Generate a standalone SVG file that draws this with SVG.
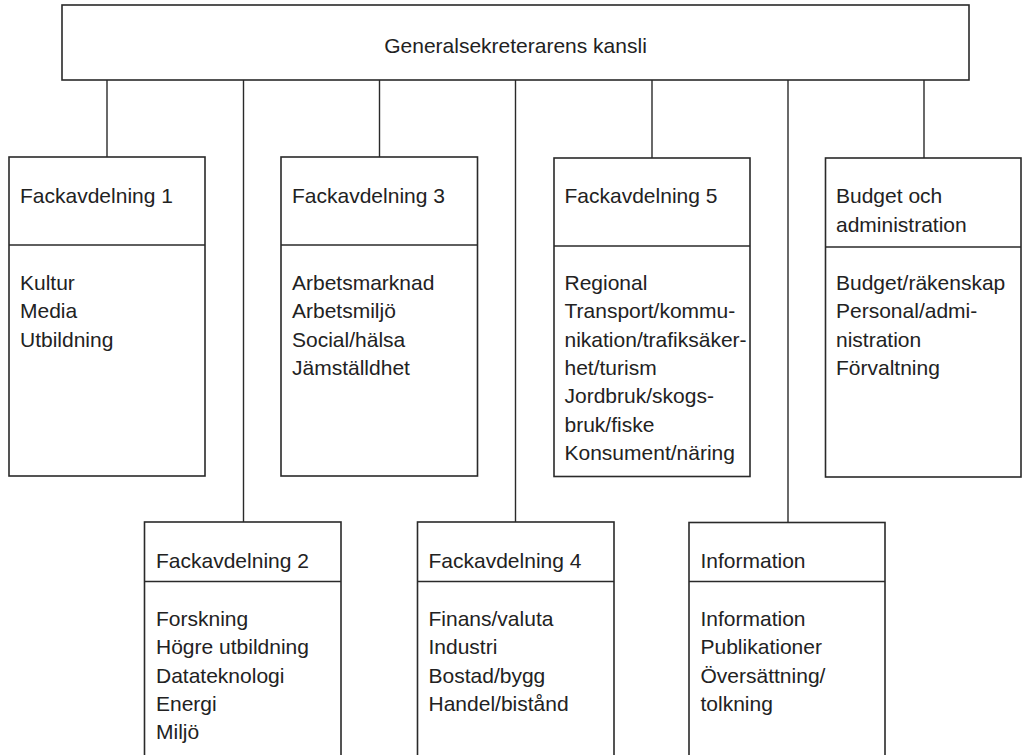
<svg xmlns="http://www.w3.org/2000/svg" width="1024" height="755" viewBox="0 0 1024 755">
<style>
.box{fill:#fff;stroke:#2a2a2a;stroke-width:1.6}
.div{stroke:#2a2a2a;stroke-width:1.6}
.con{stroke:#2a2a2a;stroke-width:1.4;fill:none}
text{font-family:"Liberation Sans",Arial,sans-serif;font-size:21px;fill:#222}
</style>
<rect width="1024" height="755" fill="#fff"/>
<g id="connectors">
<line class="con" x1="107" y1="80" x2="107" y2="157"/>
<line class="con" x1="243.5" y1="80" x2="243.5" y2="522"/>
<line class="con" x1="379.5" y1="80" x2="379.5" y2="157"/>
<line class="con" x1="515.5" y1="80" x2="515.5" y2="522"/>
<line class="con" x1="652" y1="80" x2="652" y2="158"/>
<line class="con" x1="788" y1="80" x2="788" y2="522"/>
<line class="con" x1="924" y1="80" x2="924" y2="158"/>
</g>
<g id="kansli">
<rect class="box" x="62" y="5" width="907" height="75"/>
<text x="515.5" y="53" text-anchor="middle">Generalsekreterarens kansli</text>
</g>
<g id="fack1">
<rect class="box" x="9" y="157" width="196" height="319"/>
<line class="div" x1="9" y1="245" x2="205" y2="245"/>
<text x="20" y="203">Fackavdelning 1</text>
<text x="20" y="290">Kultur</text>
<text x="20" y="318.3">Media</text>
<text x="20" y="346.6">Utbildning</text>
</g>
<g id="fack3">
<rect class="box" x="281" y="157" width="196.5" height="319"/>
<line class="div" x1="281" y1="245" x2="477.5" y2="245"/>
<text x="292" y="203">Fackavdelning 3</text>
<text x="292" y="290">Arbetsmarknad</text>
<text x="292" y="318.3">Arbetsmiljö</text>
<text x="292" y="346.6">Social/hälsa</text>
<text x="292" y="374.9">Jämställdhet</text>
</g>
<g id="fack5">
<rect class="box" x="554" y="158" width="196" height="318.5"/>
<line class="div" x1="554" y1="246" x2="750" y2="246"/>
<text x="564.5" y="203">Fackavdelning 5</text>
<text x="564.5" y="290">Regional</text>
<text x="564.5" y="318.3">Transport/kommu-</text>
<text x="564.5" y="346.6">nikation/trafiksäker-</text>
<text x="564.5" y="374.9">het/turism</text>
<text x="564.5" y="403.2">Jordbruk/skogs-</text>
<text x="564.5" y="431.5">bruk/fiske</text>
<text x="564.5" y="459.8">Konsument/näring</text>
</g>
<g id="budget">
<rect class="box" x="825.5" y="158" width="195.5" height="319"/>
<line class="div" x1="825.5" y1="247" x2="1021" y2="247"/>
<text x="836" y="203">Budget och</text>
<text x="836" y="231.5">administration</text>
<text x="836" y="290">Budget/räkenskap</text>
<text x="836" y="318.3">Personal/admi-</text>
<text x="836" y="346.6">nistration</text>
<text x="836" y="374.9">Förvaltning</text>
</g>
<g id="fack2">
<rect class="box" x="144.5" y="522" width="196.5" height="240"/>
<line class="div" x1="144.5" y1="581.5" x2="341" y2="581.5"/>
<text x="156" y="567.5">Fackavdelning 2</text>
<text x="156" y="626">Forskning</text>
<text x="156" y="654.3">Högre utbildning</text>
<text x="156" y="682.6">Datateknologi</text>
<text x="156" y="710.9">Energi</text>
<text x="156" y="739.2">Miljö</text>
</g>
<g id="fack4">
<rect class="box" x="417.5" y="522" width="196.5" height="240"/>
<line class="div" x1="417.5" y1="581.5" x2="614" y2="581.5"/>
<text x="428.5" y="567.5">Fackavdelning 4</text>
<text x="428.5" y="626">Finans/valuta</text>
<text x="428.5" y="654.3">Industri</text>
<text x="428.5" y="682.6">Bostad/bygg</text>
<text x="428.5" y="710.9">Handel/bistånd</text>
</g>
<g id="information">
<rect class="box" x="689" y="522.5" width="196" height="240"/>
<line class="div" x1="689" y1="581.5" x2="885" y2="581.5"/>
<text x="700.5" y="567.5">Information</text>
<text x="700.5" y="626">Information</text>
<text x="700.5" y="654.3">Publikationer</text>
<text x="700.5" y="682.6">Översättning/</text>
<text x="700.5" y="710.9">tolkning</text>
</g>
</svg>
